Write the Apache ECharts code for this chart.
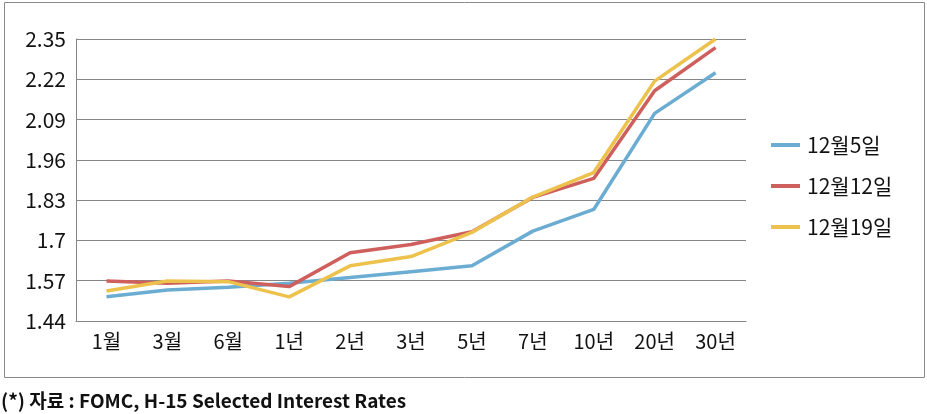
<!DOCTYPE html>
<html>
<head>
<meta charset="utf-8">
<script src="https://cdn.jsdelivr.net/npm/echarts@6/dist/echarts.min.js"></script>
<style>
html,body{margin:0;padding:0;background:#fff;}
#c{width:927px;height:414px;}
</style>
</head>
<body>
<div id="c"></div>
<script>
const categories = ['1월','3월','6월','1년','2년','3년','5년','7년','10년','20년','30년'];
const dec5  = [1.518,1.540,1.549,1.562,1.580,1.599,1.618,1.730,1.800,2.110,2.241];
const dec12 = [1.569,1.562,1.569,1.551,1.660,1.687,1.728,1.839,1.900,2.183,2.322];
const dec19 = [1.537,1.569,1.567,1.518,1.618,1.648,1.726,1.840,1.919,2.214,2.350];
const yTickLabels = ['1.44','1.57','1.7','1.83','1.96','2.09','2.22','2.35'];
const seriesNames = ['12월5일','12월12일','12월19일'];

const yMin = parseFloat(yTickLabels[0]);
const yStep = 0.13;
const toAxis = v => (v - yMin) / yStep;

const colors = ['#6BADD2','#CF5F5C','#EDC24C'];
const font = '"Noto Sans CJK KR", sans-serif';

const chart = echarts.init(document.getElementById('c'), null, {renderer:'canvas'});
chart.setOption({
  animation:false,
  backgroundColor:'#fff',
  color: colors,
  grid:{left:76, top:39, right:181, bottom:93, containLabel:false},
  legend:{
    orient:'vertical', left:771, top:134, padding:0,
    icon:'rect', itemWidth:29, itemHeight:4, itemGap:19,
    textStyle:{fontFamily:font, fontSize:21, color:'#111', lineHeight:22, padding:[0,0,0,2]},
    data: seriesNames
  },
  xAxis:{
    type:'category', data:categories, boundaryGap:true,
    axisLine:{lineStyle:{color:'#868686', width:1}},
    axisTick:{show:false},
    axisLabel:{fontFamily:font, fontSize:20, color:'#111', margin:10}
  },
  yAxis:{
    type:'value', min:0, max:yTickLabels.length-1, interval:1,
    axisLine:{show:true, lineStyle:{color:'#868686', width:1}},
    axisTick:{show:false},
    splitLine:{lineStyle:{color:'#868686', width:1}},
    axisLabel:{fontFamily:font, fontSize:21, color:'#111', margin:10,
      formatter: v => yTickLabels[Math.round(v)]}
  },
  series:[dec5,dec12,dec19].map((d,i)=>({
    name:seriesNames[i], type:'line', data:d.map(toAxis),
    symbol:'none', lineStyle:{width:3.5, color:colors[i]}, itemStyle:{color:colors[i]}
  })),
  graphic:[
    {type:'rect', shape:{x:4.5,y:2.5,width:920,height:375}, style:{fill:null, stroke:'#8a8a8a', lineWidth:1}, silent:true, z:-1},
    {type:'text', x:1, y:401, style:{text:'(*) 자료 : FOMC, H-15 Selected Interest Rates', font:'bold 19px "Noto Sans CJK KR", sans-serif', fill:'#111', verticalAlign:'middle'}}
  ]
});
</script>
</body>
</html>
